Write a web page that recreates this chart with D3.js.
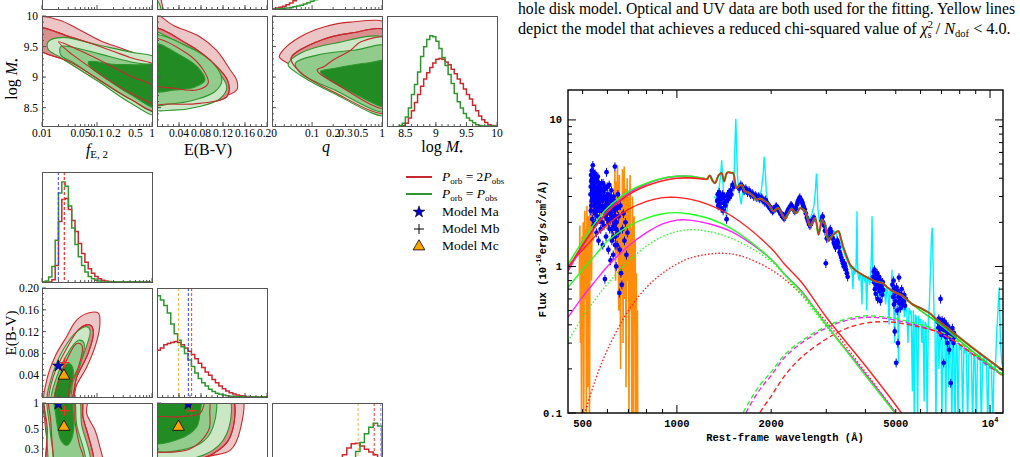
<!DOCTYPE html>
<html lang="en">
<head>
<meta charset="UTF-8">
<title>Corner plot and SED fit</title>
<script src="https://d3js.org/d3.v7.min.js"></script>
<style>
  body { margin: 0; background: #fff; }
  svg { display: block; }
</style>
</head>
<body>
<div id="chart"></div>
<script>
// ---------------- data: caption ----------------
var captionLine1 = "hole disk model. Optical and UV data are both used for the fitting. Yellow lines";
var captionLine2 = "depict the model that achieves a reduced chi-squared value of ";

// ---------------- data: upper corner plot (log M row) ----------------
// contour levels: r3/r2 filled pink, r1 red line; g3/g2/g1 filled greens
var fE_logM = {
  r3: [[0.008,9.97],[0.021,9.93],[0.049,9.77],[0.113,9.6],[0.262,9.48],[0.6,9.37],[1.3,9.3],[1.3,8.38],[0.6,8.52],[0.262,8.71],[0.113,8.92],[0.049,9.12],[0.021,9.33],[0.008,9.55]],
  r2: [[0.008,9.8],[0.032,9.66],[0.113,9.5],[0.4,9.32],[1.3,9.15],[1.3,8.44],[0.4,8.64],[0.113,8.95],[0.032,9.25],[0.008,9.48]],
  r1: [[0.02,9.58],[0.05,9.43],[0.15,9.22],[0.4,9.02],[1.3,8.8],[1.3,8.56],[0.4,8.74],[0.15,8.97],[0.07,9.18],[0.03,9.42]],
  g3: [[0.013,9.58],[0.024,9.65],[0.11,9.52],[0.4,9.41],[1.3,9.28],[1.3,8.38],[0.4,8.58],[0.11,8.92],[0.021,9.33],[0.013,9.45]],
  g2: [[0.022,9.5],[0.05,9.46],[0.11,9.38],[0.4,9.25],[1.3,9.12],[1.3,8.43],[0.4,8.64],[0.11,8.95],[0.04,9.22],[0.022,9.36]],
  g1: [[0.07,9.25],[0.2,9.21],[0.5,9.2],[1.3,9.18],[1.3,8.5],[0.4,8.72],[0.15,8.97],[0.075,9.17]]
};
var ebv_logM = {
  r3: [[-0.01,10.05],[0.029,9.85],[0.078,9.66],[0.108,9.44],[0.133,9.12],[0.145,8.95],[0.145,8.79],[0.102,8.63],[0.054,8.54],[0.018,8.54],[-0.01,8.56]],
  r2: [[-0.01,9.79],[0.054,9.55],[0.096,9.28],[0.129,8.93],[0.127,8.68],[0.078,8.57],[0.02,8.56],[-0.01,8.58]],
  r1: [[-0.01,9.62],[0.054,9.39],[0.084,9.12],[0.093,8.9],[0.072,8.79],[0.029,8.82],[-0.01,8.9]],
  g3: [[-0.01,9.74],[0.029,9.61],[0.078,9.39],[0.108,9.12],[0.127,8.84],[0.115,8.65],[0.078,8.52],[0.029,8.46],[-0.01,8.5]],
  g2: [[-0.01,9.67],[0.06,9.48],[0.102,9.23],[0.118,8.95],[0.105,8.76],[0.069,8.63],[0.024,8.56],[-0.01,8.56]],
  g1: [[-0.01,9.55],[0.042,9.36],[0.073,9.17],[0.087,8.95],[0.069,8.84],[0.033,8.79],[-0.01,8.79]]
};
var q_logM = {
  r3: [[0.034,9.33],[0.039,9.45],[0.068,9.66],[0.147,9.82],[0.357,9.9],[1.3,9.85],[1.3,8.38],[0.6,8.55],[0.203,8.79],[0.068,9.12],[0.04,9.26]],
  r2: [[0.05,9.31],[0.118,9.58],[0.357,9.72],[1.3,9.74],[1.3,8.42],[0.2,8.76],[0.068,9.08]],
  r1: [[0.118,9.12],[0.147,9.17],[0.2,9.28],[0.357,9.44],[0.5,9.58],[1.3,9.62],[1.3,8.49],[0.2,8.92],[0.125,9.07]],
  g3: [[0.046,9.23],[0.068,9.39],[0.2,9.55],[1.3,9.61],[1.3,8.38],[0.2,8.74],[0.068,9.03],[0.046,9.18]],
  g2: [[0.058,9.23],[0.118,9.36],[0.4,9.44],[1.3,9.49],[1.3,8.44],[0.2,8.8],[0.068,9.07]],
  g1: [[0.132,9.09],[0.205,9.14],[0.62,9.23],[1.3,9.25],[1.3,8.52],[0.357,8.76],[0.155,9.0]]
};
// small visible corner of the E(B-V)-q panel above
var ebv_qTop = {
  r3: [[-0.01,0.02],[0.012,0.02],[0.008,0.035],[0.004,0.06],[-0.01,0.07]],
  g3: [[-0.01,0.024],[0.006,0.024],[0.004,0.032],[-0.01,0.04]]
};

// histogram of log M (bins start 8.4, width 0.05)
var logMHistStart = 8.4, logMHistWidth = 0.05;
var logMHistGreen = [0.005,0.03,0.1,0.2,0.35,0.46,0.6,0.77,0.88,0.96,1.0,0.99,0.94,0.86,0.76,0.67,0.57,0.47,0.36,0.27,0.2,0.14,0.09,0.06,0.035,0.015,0.006,0,0,0,0,0];
var logMHistRed   = [0,0.005,0.03,0.09,0.17,0.26,0.35,0.44,0.52,0.59,0.65,0.7,0.74,0.75,0.74,0.71,0.68,0.63,0.58,0.52,0.47,0.41,0.35,0.3,0.23,0.17,0.11,0.07,0.04,0.015,0.005,0];
// histogram of log q in the row above (bins in log10 q from -1.5735, width 0.05)
var qTopHistStart = -1.5735, qTopHistWidth = 0.05;
var qTopHistGreen = [0,0,0.002,0.005,0.009,0.014,0.02,0.027,0.035,0.045,0.056,0.07,0.085,0.1,0.12,0.15,0.18,0.22,0.27,0.32,0.38,0.44,0.5,0.56,0.62,0.68,0.74,0.8,0.85,0.9,0.93,0.95];
var qTopHistRed   = [0.003,0.008,0.015,0.025,0.038,0.055,0.075,0.1,0.13,0.16,0.2,0.24,0.28,0.33,0.38,0.43,0.48,0.53,0.57,0.61,0.64,0.67,0.69,0.71,0.72,0.73,0.73,0.72,0.71,0.7,0.69,0.68];

// ---------------- data: lower corner plot ----------------
var fE_ebv = {
  r3: [[0.0113,-0.01],[0.0122,0.031],[0.0172,0.074],[0.0281,0.111],[0.0426,0.141],[0.0694,0.154],[0.106,0.154],[0.113,0.135],[0.0982,0.101],[0.0652,0.055],[0.0426,0.022],[0.034,-0.01]],
  r2: [[0.014,-0.01],[0.016,0.037],[0.028,0.089],[0.049,0.126],[0.075,0.132],[0.086,0.12],[0.069,0.08],[0.043,0.037],[0.032,-0.01]],
  r1: [[0.0172,-0.01],[0.0212,0.037],[0.032,0.08],[0.043,0.098],[0.053,0.095],[0.046,0.055],[0.032,0.022],[0.028,-0.01]],
  g3: [[0.013,-0.01],[0.015,0.037],[0.0244,0.087],[0.043,0.12],[0.065,0.129],[0.075,0.122],[0.056,0.076],[0.037,0.034],[0.030,-0.01]],
  g2: [[0.015,-0.01],[0.0185,0.037],[0.028,0.077],[0.046,0.104],[0.058,0.099],[0.048,0.055],[0.033,0.018],[0.029,-0.01]],
  g1: [[0.0172,-0.01],[0.0198,0.031],[0.0262,0.058],[0.032,0.061],[0.037,0.049],[0.0347,0.025],[0.028,-0.01]]
};
var fE_q = {
  r3: [[0.0113,1.3],[0.065,1.3],[0.065,0.762],[0.092,0.49],[0.113,0.316],[0.13,0.22],[0.14,0.1],[0.016,0.1],[0.013,0.3],[0.0113,0.6]],
  r2: [[0.012,1.3],[0.049,1.3],[0.056,0.68],[0.069,0.43],[0.086,0.25],[0.095,0.1],[0.014,0.1],[0.0125,0.5]],
  r1: [[0.014,1.3],[0.035,1.3],[0.04,0.6],[0.049,0.32],[0.056,0.25],[0.05,0.12],[0.018,0.12],[0.016,0.25],[0.0145,0.6]],
  g3: [[0.0115,1.3],[0.043,1.3],[0.053,0.55],[0.075,0.25],[0.08,0.1],[0.013,0.1],[0.013,0.2],[0.0118,0.6]],
  g2: [[0.0135,1.3],[0.035,1.3],[0.043,0.55],[0.061,0.25],[0.065,0.12],[0.016,0.12],[0.016,0.25],[0.014,0.5]],
  g1: [[0.0165,1.3],[0.034,1.3],[0.037,0.8],[0.038,0.55],[0.034,0.38],[0.028,0.33],[0.022,0.38],[0.019,0.55],[0.0175,0.8]]
};
var ebv_q = {
  r3: [[-0.01,1.3],[0.151,1.3],[0.151,0.49],[0.133,0.29],[0.09,0.243],[0.042,0.17],[-0.01,0.15]],
  r2: [[-0.01,1.3],[0.133,1.3],[0.133,0.41],[0.102,0.265],[0.024,0.195],[-0.01,0.19]],
  r1: [[0.088,1.3],[0.096,1.0],[0.096,0.8],[0.094,0.49],[0.06,0.3],[-0.01,0.275],[-0.02,0.275],[-0.02,0.64],[0.042,0.7],[0.078,0.76],[0.086,1.0]],
  g3: [[-0.01,1.3],[0.127,1.3],[0.127,0.45],[0.09,0.265],[-0.01,0.243]],
  g2: [[-0.01,1.3],[0.102,1.3],[0.102,0.535],[0.078,0.345],[-0.01,0.303]],
  g1: [[-0.01,1.3],[0.078,1.3],[0.078,0.762],[0.072,0.535],[0.042,0.394],[-0.01,0.36]]
};
// best-fit models: [f_E2, E(B-V), q]
var modelMa = [0.0198, 0.057, 0.97];
var modelMb = [0.0256, 0.063, 0.816];
var modelMc = [0.0251, 0.039, 0.535];

// histogram of f_E2 (bins in log10 from -2, width 0.06)
var fEHistStart = -2, fEHistWidth = 0.06;
var fEHistGreen = [0,0.01,0.046,0.14,0.38,0.81,0.91,0.87,0.69,0.49,0.34,0.23,0.15,0.09,0.05,0.03,0.015,0.008,0,0,0,0,0,0,0,0,0,0,0,0,0,0,0];
var fEHistRed   = [0,0,0,0.02,0.15,0.55,0.75,0.76,0.66,0.56,0.46,0.35,0.26,0.18,0.12,0.08,0.05,0.03,0.015,0.008,0.004,0,0,0,0,0,0,0,0,0,0,0,0];
// histogram of E(B-V) (bins from 0, width 0.00625)
var ebvHistStart = 0, ebvHistWidth = 0.00625;
var ebvHistGreen = [0.93,0.89,0.84,0.77,0.67,0.58,0.52,0.46,0.40,0.34,0.28,0.22,0.17,0.13,0.10,0.07,0.05,0.035,0.025,0.018,0.012,0.008,0.005,0.003,0.002,0.001,0,0,0,0,0,0];
var ebvHistRed   = [0.43,0.45,0.48,0.49,0.50,0.51,0.50,0.48,0.45,0.42,0.39,0.35,0.31,0.27,0.23,0.20,0.16,0.13,0.10,0.076,0.055,0.04,0.027,0.018,0.012,0.008,0.005,0.003,0.001,0,0,0];
// histogram of q (bins in log10 from -1.25, width 0.05)
var qHistStart = -1.25, qHistWidth = 0.05;
var qHistGreen = [0.01,0.015,0.02,0.03,0.04,0.05,0.065,0.08,0.1,0.12,0.15,0.18,0.22,0.26,0.3,0.35,0.4,0.45,0.5,0.56,0.64,0.72,0.78,0.815,0.79];
var qHistRed   = [0.02,0.03,0.05,0.07,0.1,0.13,0.17,0.21,0.25,0.29,0.33,0.37,0.41,0.43,0.45,0.49,0.53,0.59,0.63,0.635,0.61,0.58,0.555,0.53,0.5];

// ---------------- data: SED (wavelength in Angstrom, flux in 1e-16 erg/s/cm2/A) ----------------
var totalGreenUV   = [[449,1.03],[500,1.49],[550,2.0],[600,2.5],[700,3.25],[800,3.7],[900,4.0],[1000,4.13],[1100,4.13],[1250,3.95]];
var totalMagentaUV = [[449,0.93],[500,1.38],[550,1.88],[600,2.38],[700,3.15],[800,3.65],[900,3.98],[1000,4.12],[1100,4.12],[1250,3.95]];
var totalRedUV     = [[449,0.97],[500,1.4],[550,1.88],[600,2.35],[700,3.08],[800,3.55],[900,3.85],[1000,4.0],[1100,4.02],[1250,3.92]];
var totalOptical = [[1250,3.92],[1274,4.17],[1300,3.85],[1323,3.7],[1360,4.2],[1389,4.34],[1416,3.8],[1440,4.3],[1458,4.4],[1490,4.35],[1512,4.34],[1535,3.7],[1551,3.43],[1580,3.55],[1610,3.6],[1649,3.25],[1690,3.2],[1732,3.09],[1760,3.0],[1796,2.86],[1850,2.9],[1912,2.78],[1950,2.7],[1983,2.57],[2032,2.38],[2070,2.45],[2108,2.5],[2160,2.3],[2212,2.12],[2270,2.3],[2325,2.48],[2370,2.36],[2413,2.32],[2474,2.5],[2520,2.45],[2568,2.38],[2620,2.1],[2665,1.88],[2710,2.0],[2764,2.14],[2800,1.9],[2833,1.65],[2870,1.85],[2903,2.09],[2940,2.0],[2976,1.93],[3010,1.7],[3049,1.49],[3120,1.6],[3200,1.69],[3281,1.74],[3340,1.55],[3404,1.34],[3480,1.18],[3573,1.03],[3700,0.95],[3900,0.88],[4100,0.83],[4311,0.79],[4530,0.77],[4700,0.72],[4880,0.68],[5257,0.63],[5664,0.55],[6000,0.52],[6409,0.48],[6735,0.437],[7200,0.39],[7625,0.354],[8633,0.287],[11020,0.194]];
var totalGreenTail = [[5257,0.62],[6000,0.5],[6735,0.42],[7625,0.34],[8633,0.272],[11020,0.18]];
var diskRed     = [[449,1.0],[500,1.3],[550,1.62],[600,1.93],[700,2.45],[800,2.78],[900,2.95],[1000,2.96],[1100,2.88],[1250,2.66],[1500,2.2],[2000,1.33],[2211,1.03],[2500,0.78],[3000,0.45],[4000,0.21],[5000,0.113],[5600,0.08]];
var diskGreen   = [[449,0.72],[500,0.95],[550,1.2],[600,1.49],[700,1.88],[800,2.14],[900,2.29],[1000,2.33],[1100,2.28],[1250,2.14],[1500,1.8],[2000,1.12],[2211,0.88],[2500,0.67],[3000,0.4],[4000,0.18],[5000,0.098],[5600,0.07]];
var diskMagenta = [[449,0.45],[500,0.62],[550,0.8],[600,1.0],[700,1.38],[800,1.7],[900,1.95],[1000,2.07],[1100,2.07],[1250,1.97],[1500,1.72],[2000,1.12],[2211,0.88],[2500,0.68],[3000,0.4],[4000,0.185],[5000,0.1],[5600,0.07]];
var diskGreenDot = [[449,0.31],[500,0.45],[550,0.6],[600,0.76],[700,1.08],[800,1.38],[900,1.6],[1000,1.73],[1100,1.78],[1250,1.74],[1500,1.55],[2000,1.08],[2383,0.72],[3000,0.39],[4000,0.185],[5000,0.1],[5600,0.07]];
var diskRedDot   = [[490,0.08],[508,0.1],[550,0.17],[600,0.27],[700,0.5],[800,0.72],[900,0.9],[1000,1.04],[1100,1.14],[1250,1.21],[1400,1.23],[1600,1.18],[2000,0.95],[2383,0.71],[3000,0.42],[4000,0.19],[5000,0.1],[5600,0.07]];
var hostGreen   = [[1560,0.08],[1626,0.1],[1842,0.155],[2000,0.19],[2211,0.25],[2500,0.31],[3000,0.39],[3500,0.44],[4000,0.46],[4500,0.455],[5000,0.44],[6000,0.4],[6735,0.37],[7700,0.32],[8630,0.265],[9700,0.22],[11000,0.184]];
var hostMagenta = [[1590,0.08],[1660,0.1],[1842,0.145],[2000,0.18],[2211,0.24],[2500,0.3],[3000,0.38],[3500,0.43],[4000,0.45],[4500,0.445],[5000,0.43],[6000,0.39],[6735,0.36],[7700,0.31],[8630,0.26],[9700,0.215],[11000,0.18]];
var hostRed     = [[1770,0.08],[1840,0.1],[2000,0.13],[2211,0.18],[2500,0.24],[3000,0.32],[3500,0.38],[4000,0.41],[4500,0.42],[5000,0.415],[6000,0.385],[6735,0.36],[7700,0.31],[8630,0.26],[9700,0.22],[11000,0.178]];

var spectrumOptical = [[1320,3.0],[1335,2.8],[1350,3.2],[1365,3.5],[1380,4.2],[1390,5.3],[1400,4.0],[1410,3.1],[1420,2.9],[1430,2.4],[1440,2.15],[1450,2.6],[1465,3.0],[1480,3.1],[1495,3.3],[1510,3.4],[1525,4.5],[1535,7.5],[1542,10.2],[1550,7.0],[1560,4.2],[1575,3.4],[1590,3.0],[1605,2.65],[1620,3.2],[1640,3.1],[1660,3.3],[1680,3.2],[1700,3.1],[1720,3.05],[1740,3.0],[1760,2.95],[1780,3.0],[1800,2.9],[1830,3.0],[1860,3.3],[1885,4.2],[1900,5.6],[1915,4.5],[1930,3.2],[1950,2.8],[1970,2.6],[2000,2.5],[2030,2.3],[2060,2.45],[2100,2.4],[2140,2.35],[2180,2.2],[2220,2.15],[2260,2.3],[2300,2.45],[2340,2.4],[2380,2.35],[2420,2.4],[2460,2.5],[2500,2.55],[2540,2.5],[2580,2.35],[2620,2.2],[2660,2.1],[2700,2.3],[2740,2.6],[2770,3.3],[2790,4.3],[2805,3.6],[2820,2.5],[2850,2.0],[2880,2.2],[2910,2.1],[2950,2.0],[2990,1.85],[3030,1.6],[3070,1.55],[3110,1.7],[3150,1.75],[3200,1.72],[3250,1.6],[3300,1.5],[3320,1.15],[3340,1.45],[3380,1.35],[3420,1.25],[3460,1.15],[3500,1.1],[3540,1.05],[3580,0.98],[3620,0.95],[3650,0.7],[3670,1.0],[3700,0.9],[3730,0.93],[3750,1.6],[3760,2.38],[3770,1.1],[3790,0.88],[3820,0.8],[3840,0.9],[3870,0.85],[3900,0.55],[3920,0.88],[3950,0.84],[3980,0.8],[4010,0.86],[4040,0.5],[4060,0.82],[4090,0.84],[4120,0.75],[4150,0.8],[4180,1.2],[4200,2.2],[4220,1.0],[4250,0.78],[4290,0.72],[4320,0.8],[4350,0.68],[4380,0.75],[4420,0.6],[4450,0.78],[4480,0.7],[4520,0.74],[4560,0.66],[4600,0.72],[4640,0.55],[4680,0.7],[4720,0.68],[4760,0.4],[4790,0.7],[4830,0.62],[4860,0.95],[4880,0.66],[4920,0.6],[4960,0.3],[4990,0.64],[5030,0.6],[5070,0.58],[5100,0.22],[5130,0.6],[5170,0.56],[5210,0.62],[5250,0.5],[5290,0.58],[5330,0.45],[5380,0.55],[5420,0.5],[5470,0.3],[5510,0.52],[5560,0.48],[5600,0.5],[5650,0.14],[5690,0.5],[5730,0.08],[5770,0.47],[5820,0.45],[5870,0.08],[5910,0.46],[5960,0.42],[6010,0.44],[6060,0.3],[6110,0.43],[6160,0.12],[6200,0.42],[6250,0.4],[6300,0.08],[6350,0.42],[6400,0.55],[6450,0.9],[6500,1.6],[6540,1.84],[6580,1.0],[6620,0.5],[6670,0.4],[6720,0.08],[6770,0.38],[6820,0.36],[6870,0.2],[6920,0.37],[6970,0.35],[7020,0.08],[7070,0.34],[7120,0.36],[7170,0.33],[7220,0.08],[7270,0.34],[7320,0.32],[7380,0.15],[7430,0.32],[7490,0.3],[7550,0.08],[7610,0.32],[7670,0.29],[7730,0.08],[7790,0.3],[7850,0.28],[7910,0.08],[7970,0.3],[8040,0.27],[8110,0.29],[8180,0.08],[8250,0.28],[8320,0.26],[8400,0.27],[8480,0.08],[8560,0.25],[8640,0.27],[8720,0.24],[8800,0.08],[8880,0.25],[8960,0.23],[9040,0.08],[9120,0.25],[9200,0.23],[9290,0.26],[9380,0.08],[9470,0.22],[9560,0.24],[9650,0.21],[9740,0.23],[9830,0.08],[9920,0.22],[10010,0.2],[10100,0.22],[10200,0.08],[10300,0.21],[10400,0.2],[10500,0.35],[10600,0.5],[10700,0.72],[10800,0.3],[10900,0.22],[11100,0.2]];
var spectrumUV = [[488,0.9],[490,1.9],[492,0.3],[494,1.2],[496,0.08],[498,1.6],[500,0.5],[502,2.0],[504,0.08],[506,1.4],[508,2.4],[510,0.6],[512,1.8],[514,0.08],[516,2.6],[518,1.0],[520,0.15],[522,2.2],[524,1.5],[526,0.08],[528,2.8],[530,1.2],[532,3.0],[534,0.8],[536,2.4],[538,3.4],[540,1.5],[542,2.8],[545,3.4],[548,2.4],[551,3.2],[554,2.6],[557,3.5],[560,2.3],[563,3.0],[566,2.5],[570,3.2],[574,2.2],[578,2.8],[582,3.3],[586,2.0],[590,2.6],[594,3.1],[598,1.8],[602,2.7],[606,2.2],[610,3.1],[614,1.9],[618,2.6],[622,1.5],[626,2.9],[630,1.8],[634,4.5],[637,0.8],[640,3.8],[643,1.2],[646,4.9],[649,2.0],[652,0.5],[655,4.2],[658,1.5],[661,0.2],[664,3.0],[667,0.9],[670,4.6],[673,0.3],[676,2.5],[679,4.8],[682,0.6],[685,3.4],[688,0.15],[691,2.0],[694,4.0],[697,0.8],[700,3.0],[703,0.08],[706,2.3],[709,4.2],[712,0.5],[715,1.8],[718,0.08],[721,3.0],[724,1.2],[727,0.08],[730,2.2],[733,0.4],[736,1.5],[739,0.08],[742,0.9],[745,0.08],[748,0.5],[750,0.08]];

var photUV = [[530,3.1],[531,2.4],[532,4.2],[533,3.8],[534,2.8],[535,4.5],[536,3.3],[537,2.1],[538,3.6],[539,4.9],[540,2.9],[541,3.4],[542,1.9],[543,4.1],[544,2.6],[545,3.7],[546,3.0],[547,2.3],[548,4.3],[549,3.5],[550,2.0],[551,3.2],[552,2.7],[553,3.9],[554,1.7],[555,2.9],[556,3.4],[557,2.2],[558,3.8],[559,2.5],[560,3.1],[562,1.5],[563,2.8],[565,3.6],[566,2.1],[568,3.3],[569,2.6],[571,1.8],[572,3.0],[574,2.4],[575,3.7],[577,2.0],[578,2.8],[580,1.4],[582,3.2],[583,2.5],[585,1.9],[587,3.5],[589,0.82],[590,2.2],[592,2.9],[594,1.6],[596,4.4],[598,2.7],[600,2.1],[602,3.1],[604,1.3],[606,2.5],[608,3.6],[610,1.8],[612,2.3],[614,1.1],[616,2.8],[618,3.3],[620,1.5],[622,2.1],[624,2.6],[626,1.2],[628,3.0],[630,1.9],[632,2.4],[634,4.8],[636,1.6],[638,2.7],[640,1.0],[642,2.0],[644,1.4],[646,2.5],[648,3.1],[650,1.7],[652,2.2],[655,0.66],[657,1.3],[660,2.6],[663,0.9],[667,0.75],[670,1.8],[675,2.3],[680,1.5],[685,2.0],[690,1.2],[695,1.7],
  [531,3.5],[533,2.6],[535,3.9],[537,4.0],[539,3.2],[541,4.4],[543,3.0],[545,2.4],[547,3.9],[549,2.7],[551,4.0],[553,3.3],[555,2.4],[557,3.1],[559,4.1],[561,2.7],[564,3.2],[567,2.4],[570,3.4],[573,2.9],[576,3.3],[579,2.5],[581,3.7],[584,2.9],[586,2.4],[588,3.0],[591,2.6],[593,3.4],[595,2.3],[597,3.0],[599,3.5],[601,2.4],[603,2.8],[605,2.0],[607,3.0],[609,2.6],[611,2.1],[613,3.0],[615,2.3],[617,1.8],[619,2.5],[621,2.9],[623,1.8],[625,2.2],[627,1.6],[629,2.5],[631,2.8],[633,2.0],[635,1.4],[637,2.2],[639,1.8],[641,2.6]];
var photOptical = [[1345,2.8],[1350,3.1],[1355,2.6],[1360,2.9],[1365,3.2],[1370,2.7],[1378,3.0],[1385,2.5],[1392,2.9],[1400,3.1],[1405,2.4],[1412,2.7],[1420,3.0],[1428,2.6],[1441,2.1],[1444,2.8],[1452,3.1],[1460,2.9],[1468,3.2],[1476,3.0],[1484,3.3],[1492,3.1],[1505,3.6],[1520,3.5],[1580,3.4],[1600,3.6],[1620,3.5],[1640,3.3],[1660,3.4],[1680,3.2],[1700,3.3],[1720,3.1],[1740,3.15],[1760,3.0],[1780,3.05],[1800,2.95],[1820,3.0],[1840,2.9],[1860,2.95],[1880,2.85],[1900,2.8],[1920,2.85],[1940,2.7],[1960,2.6],[1980,2.55],[2000,2.45],[2020,2.4],[2040,2.45],[2060,2.5],[2080,2.55],[2100,2.5],[2120,2.4],[2140,2.3],[2160,2.25],[2180,2.2],[2200,2.15],[2220,2.2],[2240,2.3],[2260,2.4],[2280,2.45],[2300,2.55],[2320,2.6],[2340,2.55],[2360,2.45],[2380,2.4],[2400,2.5],[2420,2.65],[2440,2.8],[2460,2.9],[2480,2.85],[2500,2.8],[2520,2.7],[2540,2.55],[2560,2.45],[2580,2.3],[2600,2.15],[2620,2.05],[2640,1.95],[2660,1.9],[2680,1.95],[2700,2.05],[2720,2.1],[2740,2.15],[2900,2.05],[2910,2.15],[2920,2.2],[2930,2.0],[2950,1.9],[2970,1.75],[2990,1.05],[3010,1.55],[3030,1.6],[3050,1.7],[3070,1.75],[3090,1.8],[3110,1.72],[3130,1.6],[3150,1.55],[3170,1.45],[3190,1.4],[3210,1.35],[3230,1.4],[3250,1.5],[3270,1.45],[3290,1.35],[3310,1.25],[3330,1.2],[3350,1.15],[3370,1.1],[3390,1.05],[3410,1.0],[3430,1.05],[3450,1.0],[3470,0.95],[3490,0.9],[3510,0.85],
  [1590,3.5],[1630,3.4],[1670,3.3],[1710,3.2],[1750,3.1],[1790,3.0],[1830,2.95],[1870,2.9],[1910,2.75],[1950,2.65],[1990,2.5],[2030,2.45],[2070,2.55],[2110,2.45],[2150,2.3],[2190,2.2],[2230,2.25],[2270,2.45],[2310,2.6],[2350,2.5],[2390,2.45],[2430,2.75],[2450,2.85],[2470,2.95],[2490,2.85],[2510,2.75],[2530,2.6],
  [4230,0.85],[4250,0.92],[4260,0.78],[4275,0.95],[4290,0.7],[4300,0.88],[4315,0.65],[4330,0.82],[4345,0.75],[4360,0.9],[4375,0.6],[4390,0.8],[4405,0.72],[4420,0.85],[4435,0.68],[4450,0.76],[4465,0.58],[4480,0.8],[4495,0.7],[4510,0.74],[4525,0.64],[4540,0.78],[4560,0.69],
  [4880,0.75],[4900,0.62],[4920,0.8],[4935,0.55],[4950,0.7],[4965,0.36],[4980,0.66],[5000,0.58],[5015,0.22],[5030,0.72],[5050,0.5],[5065,0.68],[5080,0.3],[5100,0.62],[5120,0.84],[5140,0.56],[5160,0.65],[5180,0.52],[5200,0.6],[5220,0.7],[5240,0.55],[5260,0.62],[5290,0.58],[5320,0.64],[5350,0.54],[5380,0.6],
  [6800,0.42],[6830,0.38],[6860,0.44],[6890,0.36],[6920,0.41],[6950,0.6],[6970,0.39],[7000,0.34],[7030,0.43],[7060,0.37],[7090,0.4],[7110,0.22],[7130,0.35],[7160,0.42],[7190,0.38],[7220,0.33],[7250,0.4],[7280,0.36],[7310,0.3],[7340,0.39],[7370,0.35],[7400,0.27],[7430,0.37],[7460,0.33],[7490,0.16],[7520,0.36],[7550,0.32],[7580,0.38],[7610,0.34],[7640,0.3],[7670,0.35],[7700,0.33]];

var sedXTicks = [500, 1000, 2000, 5000, 10000];
var sedXMajor = [1000, 10000];
var sedXMinor = [500,600,700,800,900,2000,3000,4000,5000,6000,7000,8000,9000];
var sedYTicks = [0.1, 1, 10];
var sedYMinor = [0.2,0.3,0.4,0.5,0.6,0.7,0.8,0.9,2,3,4,5,6,7,8,9];

// ---------------- drawing ----------------
var W = 1020, H = 457;
var serif = "'Liberation Serif', 'Times New Roman', 'DejaVu Serif', serif";
var mono = "'Liberation Mono', 'DejaVu Sans Mono', monospace";
var cRed = "#c62a2e", cGreen = "#2f962f";
var pinkLight = "#ecc6c6", pinkMid = "#da8e8e";
var greenLight = "#cbe7c6", greenMid = "#92cc8c", greenDark = "#238b23";

var svg = d3.select("#chart").append("svg").attr("width", W).attr("height", H)
    .attr("font-family", serif);
svg.append("rect").attr("width", W).attr("height", H).attr("fill", "#fff");

var clipCount = 0;
var panel = function(x0, y0, w, h) {
    var id = "clip" + (clipCount++);
    svg.append("clipPath").attr("id", id).append("rect")
        .attr("x", x0).attr("y", y0).attr("width", w).attr("height", h);
    return svg.append("g").attr("clip-path", "url(#" + id + ")");
};
var frame = function(x0, y0, w, h) {
    svg.append("rect").attr("x", x0 + 0.5).attr("y", y0 + 0.5).attr("width", w).attr("height", h)
        .attr("fill", "none").attr("stroke", "#555").attr("stroke-width", 1);
};
var ticksBottom = function(sc, y, majors, minors) {
    var g = svg.append("g").attr("stroke", "#555").attr("stroke-width", 1);
    majors.forEach(function(v) { g.append("line").attr("x1", sc(v)).attr("x2", sc(v)).attr("y1", y).attr("y2", y - 4); });
    minors.forEach(function(v) { g.append("line").attr("x1", sc(v)).attr("x2", sc(v)).attr("y1", y).attr("y2", y - 2); });
};
var ticksLeft = function(sc, x, majors, minors) {
    var g = svg.append("g").attr("stroke", "#555").attr("stroke-width", 1);
    majors.forEach(function(v) { g.append("line").attr("y1", sc(v)).attr("y2", sc(v)).attr("x1", x).attr("x2", x + 4); });
    minors.forEach(function(v) { g.append("line").attr("y1", sc(v)).attr("y2", sc(v)).attr("x1", x).attr("x2", x + 2); });
};
var labelsBottom = function(sc, y, vals, texts) {
    vals.forEach(function(v, i) {
        svg.append("text").attr("x", sc(v)).attr("y", y).attr("text-anchor", "middle")
            .attr("font-size", 11.5).text(texts[i]);
    });
};
var labelsLeft = function(sc, x, vals, texts) {
    vals.forEach(function(v, i) {
        svg.append("text").attr("x", x).attr("y", sc(v) + 4).attr("text-anchor", "end")
            .attr("font-size", 11.5).text(texts[i]);
    });
};

var closedCurve = d3.line().curve(d3.curveCatmullRomClosed.alpha(0.5));
var drawContours = function(g, sx, sy, c) {
    var p = function(pts) { return closedCurve(pts.map(function(d) { return [sx(d[0]), sy(d[1])]; })); };
    if (c.r3) g.append("path").attr("d", p(c.r3)).attr("fill", pinkLight).attr("stroke", cRed).attr("stroke-width", 1.1);
    if (c.r2) g.append("path").attr("d", p(c.r2)).attr("fill", pinkMid).attr("stroke", cRed).attr("stroke-width", 1.1);
    if (c.g3) g.append("path").attr("d", p(c.g3)).attr("fill", greenLight).attr("stroke", cGreen).attr("stroke-width", 1.1);
    if (c.g2) g.append("path").attr("d", p(c.g2)).attr("fill", greenMid).attr("stroke", cGreen).attr("stroke-width", 1.1);
    if (c.g1) g.append("path").attr("d", p(c.g1)).attr("fill", greenDark).attr("stroke", cGreen).attr("stroke-width", 1.1);
    [c.r2, c.r1].forEach(function(r) {
        if (r) g.append("path").attr("d", p(r)).attr("fill", "none").attr("stroke", cRed).attr("stroke-width", 1.1);
    });
};
var drawHist = function(g, sx, sy, start, width, values, color, logBins) {
    var edge = function(i) { var e = start + i * width; return logBins ? Math.pow(10, e) : e; };
    var pts = [[edge(0), 0]];
    values.forEach(function(v, i) { pts.push([edge(i), v]); });
    pts.push([edge(values.length), 0]);
    var line = d3.line().curve(d3.curveStepAfter).x(function(d) { return sx(d[0]); }).y(function(d) { return sy(d[1]); });
    g.append("path").attr("d", line(pts)).attr("fill", "none").attr("stroke", color).attr("stroke-width", 1.5);
};
var vline = function(g, x, y0, y1, color) {
    g.append("line").attr("x1", x).attr("x2", x).attr("y1", y0).attr("y2", y1)
        .attr("stroke", color).attr("stroke-width", 1).attr("stroke-dasharray", "3,2");
};
var star = d3.symbol().type(d3.symbolStar).size(42);
var tri = d3.symbol().type(d3.symbolTriangle).size(60);
var drawMarkers = function(g, sx, sy, ix, iy) {
    g.append("path").attr("d", tri()).attr("transform", "translate(" + sx(modelMc[ix]) + "," + sy(modelMc[iy]) + ")")
        .attr("fill", "#ffa500").attr("stroke", "#000").attr("stroke-width", 0.8);
    g.append("path").attr("d", star()).attr("transform", "translate(" + sx(modelMa[ix]) + "," + sy(modelMa[iy]) + ")")
        .attr("fill", "#0000d0").attr("stroke", "#000").attr("stroke-width", 0.6);
    var px = sx(modelMb[ix]), py = sy(modelMb[iy]);
    g.append("line").attr("x1", px - 5).attr("x2", px + 5).attr("y1", py).attr("y2", py).attr("stroke", "#ff2a2a").attr("stroke-width", 1.2);
    g.append("line").attr("x1", px).attr("x2", px).attr("y1", py - 5).attr("y2", py + 5).attr("stroke", "#ff2a2a").attr("stroke-width", 1.2);
};

// ---- scales for the corner plots
var colX = [42, 157, 272, 387], pw = 110;
var sFE = d3.scaleLog().domain([0.01, 1]).range([42, 152]);
var sEBVx = d3.scaleLinear().domain([0, 0.2]).range([157, 267]);
var sQTopx = d3.scaleLog().domain([0.0267, 1]).range([272, 382]);
var sLogMx = d3.scaleLinear().domain([8.2, 10]).range([387, 497]);
var sLogMy = d3.scaleLinear().domain([8.2, 10]).range([126, 16]);
var sQTopy = d3.scaleLog().domain([0.0267, 1]).range([9, -101]);
var sHistTop0 = d3.scaleLinear().domain([0, 1]).range([9, -101]);
var sHistLogM = d3.scaleLinear().domain([0, 1.22]).range([126, 16]);

var sEBVy = d3.scaleLinear().domain([0, 0.2]).range([397, 288]);
var sQy = d3.scaleLog().domain([0.0562, 1]).range([513, 403]);
var sQx = d3.scaleLog().domain([0.0562, 1]).range([272, 382]);
var sHistR2 = d3.scaleLinear().domain([0, 1]).range([282, 172]);
var sHistR3 = d3.scaleLinear().domain([0, 1]).range([397, 288]);
var sHistR4 = d3.scaleLinear().domain([0, 1]).range([513, 403]);

var fEMaj = [0.01, 0.1, 1], fEMin = [0.02,0.03,0.04,0.05,0.06,0.07,0.08,0.09,0.2,0.3,0.4,0.5,0.6,0.7,0.8,0.9];
var logMMaj = [8.5, 9, 9.5, 10], logMMin = d3.range(8.3, 10, 0.1);
var ebvMaj = [0.04, 0.08, 0.12, 0.16, 0.2], ebvMin = d3.range(0.01, 0.2, 0.01);
var qTopMin = [0.03,0.04,0.05,0.06,0.07,0.08,0.09,0.2,0.3,0.4,0.5,0.6,0.7,0.8,0.9];
var qMin = [0.06,0.07,0.08,0.09,0.2,0.3,0.4,0.5,0.6,0.7,0.8,0.9];

// ---- upper corner, top row (mostly outside the picture)
var g;
g = panel(colX[0], -101, pw, 110); frame(colX[0], -101, pw, 110); ticksBottom(sFE, 9, fEMaj, fEMin);
g = panel(colX[1], -101, pw, 110); drawContours(g, sEBVx, sQTopy, ebv_qTop); frame(colX[1], -101, pw, 110); ticksBottom(sEBVx, 9, ebvMaj, ebvMin);
g = panel(colX[2], -101, pw, 110);
drawHist(g, sQTopx, sHistTop0, qTopHistStart, qTopHistWidth, qTopHistRed, cRed, true);
drawHist(g, sQTopx, sHistTop0, qTopHistStart, qTopHistWidth, qTopHistGreen, cGreen, true);
frame(colX[2], -101, pw, 110); ticksBottom(sQTopx, 9, [0.1, 1], qTopMin);

// ---- upper corner, log M row
g = panel(colX[0], 16, pw, 110); drawContours(g, sFE, sLogMy, fE_logM); frame(colX[0], 16, pw, 110);
ticksBottom(sFE, 126, fEMaj, fEMin); ticksLeft(sLogMy, 42, logMMaj, logMMin);
g = panel(colX[1], 16, pw, 110); drawContours(g, sEBVx, sLogMy, ebv_logM); frame(colX[1], 16, pw, 110);
ticksBottom(sEBVx, 126, ebvMaj, ebvMin); ticksLeft(sLogMy, 157, logMMaj, logMMin);
g = panel(colX[2], 16, pw, 110); drawContours(g, sQTopx, sLogMy, q_logM); frame(colX[2], 16, pw, 110);
ticksBottom(sQTopx, 126, [0.1, 1], qTopMin); ticksLeft(sLogMy, 272, logMMaj, logMMin);
g = panel(colX[3], 16, pw, 110);
drawHist(g, sLogMx, sHistLogM, logMHistStart, logMHistWidth, logMHistRed, cRed, false);
drawHist(g, sLogMx, sHistLogM, logMHistStart, logMHistWidth, logMHistGreen, cGreen, false);
frame(colX[3], 16, pw, 110); ticksBottom(sLogMx, 126, logMMaj, logMMin);

labelsBottom(sFE, 137, [0.01, 0.05, 0.1, 0.2, 0.5, 1], ["0.01", "0.05", "0.1", "0.2", "0.5", "1"]);
labelsBottom(sEBVx, 137, [0.04, 0.08, 0.12, 0.16, 0.2], ["0.04", "0.08", "0.12", "0.16", "0.20"]);
labelsBottom(sQTopx, 137, [0.1, 0.2, 0.3, 0.5, 1], ["0.1", "0.2", "0.3", "0.5", "1"]);
labelsBottom(sLogMx, 137, [8.5, 9, 9.5, 10], ["8.5", "9", "9.5", "10"]);
labelsLeft(sLogMy, 38, [10, 9.5, 9, 8.5], ["10", "9.5", "9", "8.5"]);

var axisTitle = function(x, y, rotate) {
    return svg.append("text").attr("text-anchor", "middle").attr("font-size", 16)
        .attr("transform", "translate(" + x + "," + y + ")" + (rotate ? " rotate(-90)" : ""));
};
var t = axisTitle(97, 155);
t.append("tspan").attr("font-style", "italic").text("f");
t.append("tspan").attr("font-size", 11).attr("dy", 3).text("E, 2");
axisTitle(208, 155).text("E(B-V)");
axisTitle(326, 152).attr("font-style", "italic").text("q");
t = axisTitle(442, 152);
t.append("tspan").text("log ");
t.append("tspan").attr("font-style", "italic").text("M");
t.append("tspan").attr("font-size", 10).attr("dy", 3).text("\u2022");
t = axisTitle(17, 79, true);
t.append("tspan").text("log ");
t.append("tspan").attr("font-style", "italic").text("M");
t.append("tspan").attr("font-size", 10).attr("dy", 3).text("\u2022");

// ---- lower corner plot
g = panel(colX[0], 172, pw, 110);
drawHist(g, sFE, sHistR2, fEHistStart, fEHistWidth, fEHistRed, cRed, true);
drawHist(g, sFE, sHistR2, fEHistStart, fEHistWidth, fEHistGreen, cGreen, true);
vline(g, sFE(modelMa[0]), 172, 282, "#3b3bff");
vline(g, sFE(modelMc[0]), 172, 282, "#ffa51e");
vline(g, sFE(modelMb[0]), 172, 282, "#ff3030");
frame(colX[0], 172, pw, 110); ticksBottom(sFE, 282, fEMaj, fEMin);

g = panel(colX[0], 288, pw, 109); drawContours(g, sFE, sEBVy, fE_ebv); drawMarkers(g, sFE, sEBVy, 0, 1);
frame(colX[0], 288, pw, 109); ticksBottom(sFE, 397, fEMaj, fEMin); ticksLeft(sEBVy, 42, ebvMaj, ebvMin);
labelsLeft(sEBVy, 39, [0.04, 0.08, 0.12, 0.16, 0.2], ["0.04", "0.08", "0.12", "0.16", "0.20"]);
axisTitle(16, 333, true).attr("font-size", 15).text("E(B-V)");

g = panel(colX[1], 288, pw, 109);
drawHist(g, sEBVx, sHistR3, ebvHistStart, ebvHistWidth, ebvHistRed, cRed, false);
drawHist(g, sEBVx, sHistR3, ebvHistStart, ebvHistWidth, ebvHistGreen, cGreen, false);
vline(g, sEBVx(modelMc[1]), 288, 397, "#ffb040");
vline(g, sEBVx(modelMa[1]), 288, 397, "#3b3bff");
vline(g, sEBVx(modelMb[1]), 288, 397, "#ff3030");
frame(colX[1], 288, pw, 109); ticksBottom(sEBVx, 397, ebvMaj, ebvMin);

g = panel(colX[0], 403, pw, 110); drawContours(g, sFE, sQy, fE_q); drawMarkers(g, sFE, sQy, 0, 2);
frame(colX[0], 403, pw, 110); ticksLeft(sQy, 42, [0.1, 1], qMin);
labelsLeft(sQy, 39, [1, 0.5, 0.3], ["1", "0.5", "0.3"]);
axisTitle(17, 463, true).attr("font-style", "italic").text("q");

g = panel(colX[1], 403, pw, 110); drawContours(g, sEBVx, sQy, ebv_q); drawMarkers(g, sEBVx, sQy, 1, 2);
frame(colX[1], 403, pw, 110); ticksLeft(sQy, 157, [0.1, 1], qMin);

g = panel(colX[2], 403, pw, 110);
drawHist(g, sQx, sHistR4, qHistStart, qHistWidth, qHistRed, cRed, true);
drawHist(g, sQx, sHistR4, qHistStart, qHistWidth, qHistGreen, cGreen, true);
vline(g, sQx(modelMc[2]), 403, 513, "#ffb040");
vline(g, sQx(modelMb[2]), 403, 513, "#ff3030");
vline(g, sQx(modelMa[2]), 403, 513, "#8080ff");
frame(colX[2], 403, pw, 110);

// ---- legend
var lg = svg.append("g").attr("font-size", 13.5);
lg.append("line").attr("x1", 406).attr("x2", 432).attr("y1", 177).attr("y2", 177).attr("stroke", cRed).attr("stroke-width", 2);
lg.append("line").attr("x1", 406).attr("x2", 432).attr("y1", 194).attr("y2", 194).attr("stroke", cGreen).attr("stroke-width", 2);
var legText = function(y, twoP) {
    var tx = lg.append("text").attr("x", 442).attr("y", y);
    tx.append("tspan").attr("font-style", "italic").text("P");
    tx.append("tspan").attr("font-size", 9).attr("dy", 3).text("orb");
    tx.append("tspan").attr("dy", -3).text(twoP ? " = 2" : " = ");
    tx.append("tspan").attr("font-style", "italic").text("P");
    tx.append("tspan").attr("font-size", 9).attr("dy", 3).text("obs");
};
legText(181, true);
legText(198, false);
lg.append("path").attr("d", star()).attr("transform", "translate(419,212)").attr("fill", "#0000d0").attr("stroke", "#000").attr("stroke-width", 0.6);
lg.append("line").attr("x1", 414).attr("x2", 424).attr("y1", 229).attr("y2", 229).attr("stroke", "#000");
lg.append("line").attr("x1", 419).attr("x2", 419).attr("y1", 224).attr("y2", 234).attr("stroke", "#000");
lg.append("path").attr("d", tri()).attr("transform", "translate(419,246.5)").attr("fill", "#ffa500").attr("stroke", "#000").attr("stroke-width", 0.8);
lg.append("text").attr("x", 442).attr("y", 216).text("Model Ma");
lg.append("text").attr("x", 442).attr("y", 233).text("Model Mb");
lg.append("text").attr("x", 442).attr("y", 250).text("Model Mc");

// ---- caption
var cap = svg.append("g").attr("font-size", 16.2);
cap.append("text").attr("x", 518).attr("y", 14).attr("textLength", 497).attr("lengthAdjust", "spacingAndGlyphs").text(captionLine1);
var c2 = cap.append("text").attr("x", 518).attr("y", 34);
c2.append("tspan").text(captionLine2);
c2.append("tspan").attr("font-style", "italic").text("\u03c7");
c2.append("tspan").attr("font-size", 10.5).attr("dy", -6).text("2");
c2.append("tspan").attr("font-size", 10.5).attr("dx", -5.5).attr("dy", 10).text("s");
c2.append("tspan").attr("dy", -4).text(" / ");
c2.append("tspan").attr("font-style", "italic").text("N");
c2.append("tspan").attr("font-size", 10.5).attr("dy", 3).text("dof");
c2.append("tspan").attr("dy", -3).text("  < 4.0.");

// ---- SED panel
var x0 = 568, x1 = 1003, y0 = 90, y1 = 413;
var sx = d3.scaleLog().domain([449, 11000]).range([x0, x1]);
var sy = d3.scaleLog().domain([0.1, 16]).range([y1, y0]);
var sed = panel(x0, y0, x1 - x0, y1 - y0);
var rawLine = d3.line().x(function(d) { return sx(d[0]); }).y(function(d) { return sy(d[1]); });
var smoothLine = d3.line().curve(d3.curveCatmullRom.alpha(0.5)).x(function(d) { return sx(d[0]); }).y(function(d) { return sy(d[1]); });
var relErr = 0.07;

sed.append("path").attr("d", rawLine(spectrumOptical)).attr("fill", "none").attr("stroke", "#00f0ff").attr("stroke-width", 1.4);
sed.append("path").attr("d", rawLine(spectrumUV)).attr("fill", "none").attr("stroke", "#ff8c0a").attr("stroke-width", 1.6);

var phot = photUV.concat(photOptical);
sed.selectAll("line.err").data(phot).enter().append("line")
    .attr("x1", function(d) { return sx(d[0]); }).attr("x2", function(d) { return sx(d[0]); })
    .attr("y1", function(d) { return sy(d[1] * (1 - relErr)); }).attr("y2", function(d) { return sy(d[1] * (1 + relErr)); })
    .attr("stroke", "#0000ff").attr("stroke-width", 1);
sed.selectAll("circle.pt").data(phot).enter().append("circle")
    .attr("cx", function(d) { return sx(d[0]); }).attr("cy", function(d) { return sy(d[1]); })
    .attr("r", 2.4).attr("fill", "#0000ff");

var curve = function(data, color, dash, width) {
    sed.append("path").attr("d", smoothLine(data)).attr("fill", "none").attr("stroke", color)
        .attr("stroke-width", width || 1.4).attr("stroke-dasharray", dash || null);
};
curve(diskRedDot, "#ff2020", "1.5,2");
curve(diskGreenDot, "#20ff20", "1.5,2");
curve(hostGreen, "#20ff20", "5,3");
curve(hostMagenta, "#ff20ff", "5,3");
curve(hostRed, "#ff2020", "5,3");
curve(diskMagenta, "#ff20ff");
curve(diskGreen, "#20ff20");
curve(diskRed, "#ff2020");
curve(totalGreenTail, "#20e020", null, 1.6);
curve(totalMagentaUV, "#ff20ff", null, 1.6);
curve(totalGreenUV, "#20ff20", null, 1.6);
curve(totalRedUV, "#ff2020", null, 1.6);
curve(totalOptical, "#30c030", null, 2.2);
curve(totalOptical, "#d4301a", null, 1.5);

// frame and ticks
svg.append("rect").attr("x", x0).attr("y", y0).attr("width", x1 - x0).attr("height", y1 - y0)
    .attr("fill", "none").attr("stroke", "#000").attr("stroke-width", 1.4);
var tk = svg.append("g").attr("stroke", "#000").attr("stroke-width", 1);
sedXMajor.concat(sedXMinor).forEach(function(v) {
    var len = sedXMajor.indexOf(v) >= 0 ? 8 : 4;
    tk.append("line").attr("x1", sx(v)).attr("x2", sx(v)).attr("y1", y1).attr("y2", y1 - len);
    tk.append("line").attr("x1", sx(v)).attr("x2", sx(v)).attr("y1", y0).attr("y2", y0 + len);
});
sedYTicks.concat(sedYMinor).forEach(function(v) {
    var len = sedYTicks.indexOf(v) >= 0 ? 8 : 4;
    tk.append("line").attr("y1", sy(v)).attr("y2", sy(v)).attr("x1", x0).attr("x2", x0 + len);
    tk.append("line").attr("y1", sy(v)).attr("y2", sy(v)).attr("x1", x1).attr("x2", x1 - len);
});
var sedText = svg.append("g").attr("font-family", mono).attr("font-weight", "bold").attr("font-size", 10.5);
sedXTicks.forEach(function(v) {
    var tx = sedText.append("text").attr("x", sx(v)).attr("y", 427).attr("text-anchor", "middle");
    if (v === 10000) {
        tx.append("tspan").text("10");
        tx.append("tspan").attr("font-size", 7).attr("dy", -5).text("4");
    } else {
        tx.text(v);
    }
});
sedYTicks.forEach(function(v) {
    sedText.append("text").attr("x", 562).attr("y", sy(v) + 3.5).attr("text-anchor", "end").text(v);
});
sedText.append("text").attr("x", 785).attr("y", 441).attr("text-anchor", "middle").text("Rest-frame wavelength (\u00c5)");
var yl = sedText.append("text").attr("text-anchor", "middle").attr("transform", "translate(546,249) rotate(-90)");
yl.append("tspan").text("Flux (10");
yl.append("tspan").attr("font-size", 7).attr("dy", -5).text("-16");
yl.append("tspan").attr("dy", 5).text("erg/s/cm");
yl.append("tspan").attr("font-size", 7).attr("dy", -5).text("2");
yl.append("tspan").attr("dy", 5).text("/\u00c5)");
</script>
</body>
</html>
